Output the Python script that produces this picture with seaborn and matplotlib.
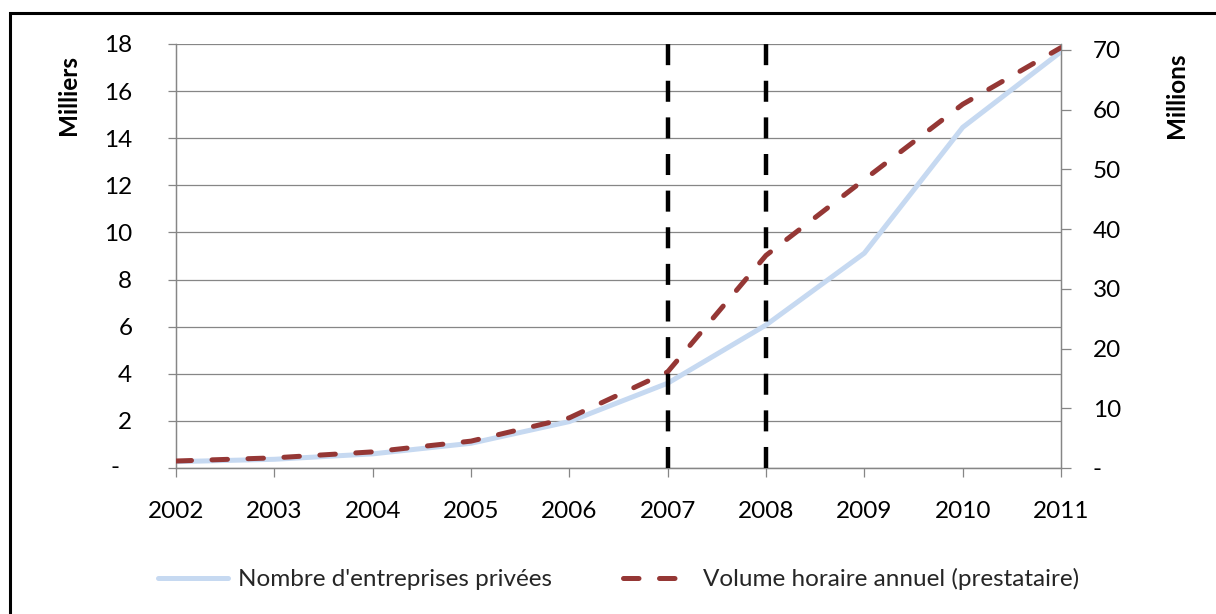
import matplotlib
matplotlib.use("Agg")
import matplotlib.pyplot as plt
import matplotlib.patches as mpatches
from matplotlib.ticker import FixedLocator, FuncFormatter
import seaborn as sns

# Data
years = [2002, 2003, 2004, 2005, 2006, 2007, 2008, 2009, 2010, 2011]
entreprises_milliers = [0.27, 0.37, 0.60, 1.05, 1.97, 3.60, 6.07, 9.12, 14.46, 17.67]
volume_millions = [1.17, 1.70, 2.70, 4.50, 8.40, 16.10, 35.60, 48.30, 60.90, 70.40]
reform_years = [2007, 2008]

label_entreprises = "Nombre d'entreprises privées"
label_volume = "Volume horaire annuel (prestataire)"
left_title = "Milliers"
right_title = "Millions"
left_ticks = [0, 2, 4, 6, 8, 10, 12, 14, 16, 18]
right_ticks = [0, 10, 20, 30, 40, 50, 60, 70]

sns.set_theme(style="white")
plt.rcParams["font.family"] = ["Lato", "DejaVu Sans"]

GRID = "#868686"
BLUE = "#C6D9F1"
RED = "#953735"
FS = 17.5

fig = plt.figure(figsize=(12.16, 6.14), dpi=100)
ax = fig.add_axes([176 / 1216, 1 - 468 / 614, (1061 - 176) / 1216, (468 - 44) / 614])
ax2 = ax.twinx()

sns.lineplot(x=years, y=entreprises_milliers, ax=ax, color=BLUE, linewidth=3.6,
             legend=False, zorder=3)
sns.lineplot(x=years, y=volume_millions, ax=ax2, color=RED, linewidth=3.6,
             linestyle=(0, (3.1, 4.1)), legend=False, zorder=3)
line_blue = ax.lines[0]
line_red = ax2.lines[0]
line_blue.set_solid_capstyle("round")
line_red.set_dash_capstyle("round")

# Vertical markers: dash pattern sized so both ends of the axis carry a dash
for yr in reform_years:
    ax2.axvline(yr, color="black", linewidth=3.2, linestyle=(0, (4.73, 3.51)),
                dash_capstyle="butt", zorder=4)

ax.set_xlim(years[0], years[-1])
ax.set_ylim(0, 18)
ax2.set_ylim(0, 71)

ax.xaxis.set_major_locator(FixedLocator(years))
ax.set_xticklabels([str(y) for y in years])
ax.yaxis.set_major_locator(FixedLocator(left_ticks))
ax.yaxis.set_major_formatter(FuncFormatter(lambda v, p: "" if v == 0 else f"{v:.0f}"))
ax2.yaxis.set_major_locator(FixedLocator(right_ticks))
ax2.yaxis.set_major_formatter(FuncFormatter(lambda v, p: "-" if v == 0 else f"{v:.0f}"))

ax.grid(False)
ax2.grid(False)
ax.yaxis.grid(True, color=GRID, linewidth=0.9)
ax.set_axisbelow(True)

for a in (ax, ax2):
    for side, sp in a.spines.items():
        sp.set_color(GRID)
        sp.set_linewidth(0.9)
    a.spines["top"].set_visible(False)
    a.set_xlabel("")
    a.set_ylabel("")

ax.tick_params(axis="x", which="major", direction="out", length=6.5, width=0.9,
               color=GRID, labelsize=FS, labelcolor="black", pad=17, bottom=True)
ax.tick_params(axis="y", which="major", direction="out", length=6, width=0.9,
               color=GRID, labelsize=FS, labelcolor="black", pad=25.5, left=True)
ax2.tick_params(axis="y", which="major", direction="out", length=7, width=0.9,
                color=GRID, labelsize=FS, labelcolor="black", pad=16, right=True)

# Zero on the left axis shown as a dash, set apart like the accounting format
ax.annotate("-", xy=(0, 0), xycoords=ax.get_yaxis_transform(),
            xytext=(-61, 0), textcoords="offset pixels",
            ha="center", va="center", fontsize=FS, color="black")

fig.text(68 / 1216, 1 - 95 / 614, left_title, rotation=90, ha="center", va="center",
         fontsize=FS, fontweight="bold", color="black")
fig.text(1176 / 1216, 1 - 95 / 614, right_title, rotation=90, ha="center", va="center",
         fontsize=FS, fontweight="bold", color="black")

fig.legend([line_blue, line_red], [label_entreprises, label_volume],
           loc="center left", bbox_to_anchor=(158 / 1216, 1 - 579 / 614),
           ncol=2, frameon=False, fontsize=FS, handlelength=2.9,
           handletextpad=0.4, columnspacing=2.9, borderpad=0, borderaxespad=0)

# Outer frame of the chart area
fig.add_artist(mpatches.Rectangle((10 / 1216, -0.1), 1.2, 1.1 - 13 / 614,
                                  transform=fig.transFigure, fill=False,
                                  edgecolor="black", linewidth=2.2, clip_on=False))

fig.savefig("out.png", dpi=100)
